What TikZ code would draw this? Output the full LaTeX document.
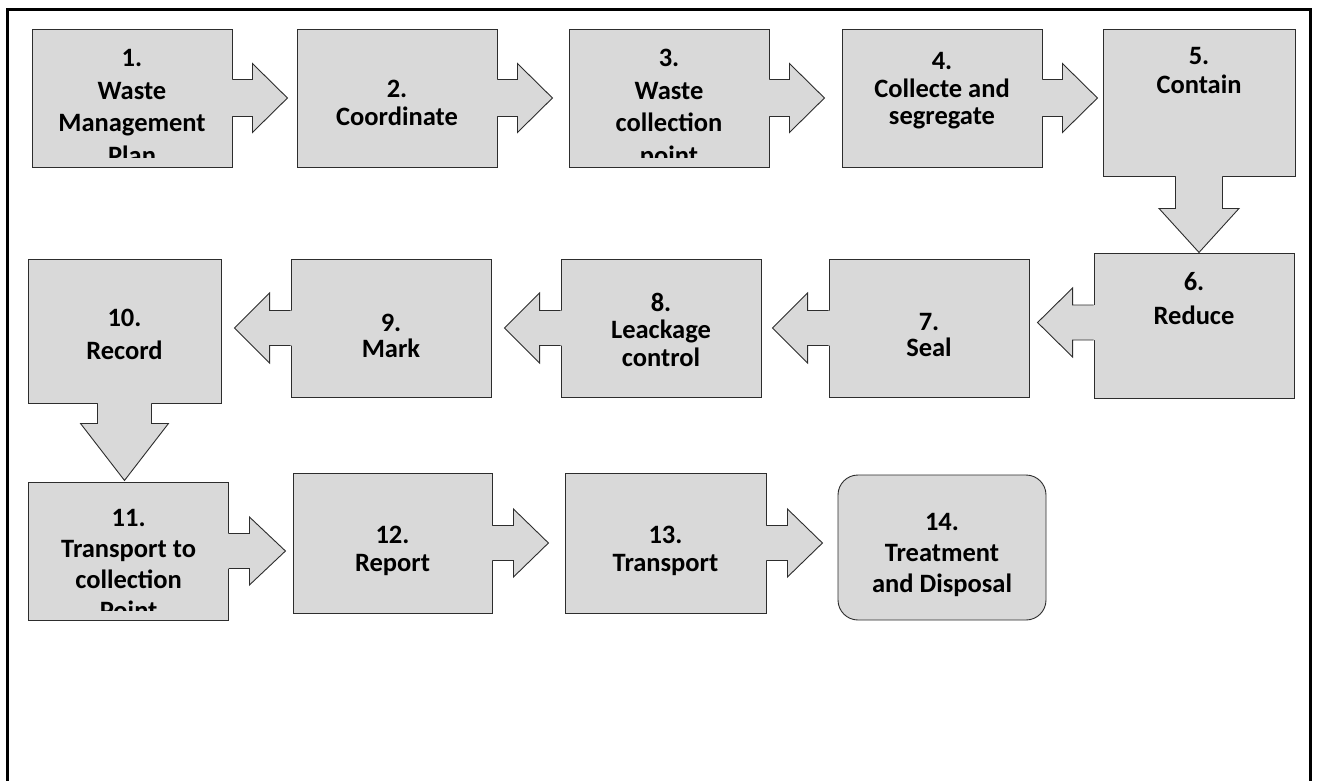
\documentclass[tikz,border=0pt]{standalone}
\usepackage{fontspec}
\setmainfont{Carlito}
\definecolor{boxfill}{RGB}{217,217,217}
\definecolor{edgecol}{RGB}{45,45,45}
\tikzset{
  stepbox/.style={draw=edgecol, fill=boxfill, line width=0.9pt, inner sep=0pt, rectangle},
  edge/.style={draw=edgecol, line width=0.9pt, line join=miter},
  txt/.style={anchor=base, inner sep=0pt, text=black},
}
\newcommand\lbl[2]{{\fontsize{26.5pt}{#1pt}\selectfont\bfseries\begin{tabular}[t]{@{}c@{}}#2\end{tabular}}}
\newcommand\steplabel[5]{%
  \begin{scope}
    \clip ([yshift=10pt]#1.south west) rectangle (#1.north east);
    \node[txt] (#1t) at (#2,#3+3) {\lbl{#4}{#5}};
  \end{scope}}
% #1 anchor point, #2 rotation, #3 shaft half, #4 head half, #5 base, #6 tip depth
\newcommand\arrowshape[6]{%
  \begin{scope}[shift={(#1)},rotate=#2]
    \fill[boxfill] (-1.5pt,#3pt) -- (#5pt,#3pt) -- (#5pt,#4pt) -- ({#5pt+#6pt},0pt) -- (#5pt,-#4pt) -- (#5pt,-#3pt) -- (-1.5pt,-#3pt) -- cycle;
    \draw[edge] (0pt,#3pt) -- (#5pt,#3pt) -- (#5pt,#4pt) -- ({#5pt+#6pt},0pt) -- (#5pt,-#4pt) -- (#5pt,-#3pt) -- (0pt,-#3pt);
  \end{scope}}
\begin{document}
\begin{tikzpicture}[x=1pt,y=-1pt]
\useasboundingbox (0,0) rectangle (1322,781);
\fill[white] (0,0) rectangle (1322,781);
\draw[line width=3pt] (7.5,781) -- (7.5,9.5) -- (1310.5,9.5) -- (1310.5,781);

% boxes
\node[stepbox, minimum width=200pt, minimum height=138pt] (b1) at (132,98) {};
\node[stepbox, minimum width=200pt, minimum height=138pt] (b2) at (397,98) {};
\node[stepbox, minimum width=200pt, minimum height=138pt] (b3) at (669,98) {};
\node[stepbox, minimum width=200pt, minimum height=138pt] (b4) at (942,98) {};
\node[stepbox, minimum width=192pt, minimum height=147pt] (b5) at (1199,102.5) {};
\node[stepbox, minimum width=200pt, minimum height=145pt] (b6) at (1194,325.5) {};
\node[stepbox, minimum width=200pt, minimum height=138pt] (b7) at (929,328) {};
\node[stepbox, minimum width=200pt, minimum height=138pt] (b8) at (661,328) {};
\node[stepbox, minimum width=200pt, minimum height=138pt] (b9) at (391,328) {};
\node[stepbox, minimum width=193pt, minimum height=144pt] (b10) at (124.5,331) {};
\node[stepbox, minimum width=200pt, minimum height=138pt] (b11) at (128.6,551) {};
\node[stepbox, minimum width=199pt, minimum height=140pt] (b12) at (392.5,543) {};
\node[stepbox, minimum width=201pt, minimum height=140pt] (b13) at (665.5,543) {};
\node[stepbox, rounded corners=20pt, minimum width=208pt, minimum height=145pt] (b14) at (942,547.5) {};

% arrows attached to boxes
\arrowshape{b1.east}{0}{18.5}{34.5}{20}{35}
\arrowshape{b2.east}{0}{18.5}{34.5}{20}{35}
\arrowshape{b3.east}{0}{18.5}{34.5}{20}{35}
\arrowshape{b4.east}{0}{18.5}{34.5}{20}{35}
\arrowshape{b5.south}{-90}{23.5}{40}{32}{44}
\arrowshape{[yshift=3pt]b6.west}{180}{17.5}{34.5}{21}{35}
\arrowshape{b7.west}{180}{17.5}{35}{21}{35}
\arrowshape{b8.west}{180}{17.5}{35}{21}{35}
\arrowshape{b9.west}{180}{17.5}{35}{21}{35}
\arrowshape{b10.south}{-90}{27}{44}{20}{57}
\arrowshape{b11.east}{0}{17.5}{34}{20.4}{36}
\arrowshape{b12.east}{0}{17.5}{34}{21}{35}
\arrowshape{b13.east}{0}{17.5}{34}{21}{35}

% labels
\steplabel{b1}{132}{64}{32.5}{1.\\Waste\\Management\\Plan}
\steplabel{b2}{397}{95}{28}{2.\\Coordinate}
\steplabel{b3}{669}{64}{32.5}{3.\\Waste\\collection\\point}
\steplabel{b4}{942}{67}{27.5}{4.\\Collecte and\\segregate}
\steplabel{b5}{1199}{62}{29}{5.\\Contain}
\steplabel{b6}{1194}{287}{34}{6.\\Reduce}
\steplabel{b7}{929}{327}{26}{7.\\Seal}
\steplabel{b8}{661}{308}{27.5}{8.\\Leackage\\control}
\steplabel{b9}{391}{328}{25}{9.\\Mark}
\steplabel{b10}{124.5}{323}{33}{10.\\Record}
\steplabel{b11}{128.6}{523}{31}{11.\\Transport to\\collection\\Point}
\steplabel{b12}{392.5}{540}{28}{12.\\Report}
\steplabel{b13}{665.5}{540}{28}{13.\\Transport}
\steplabel{b14}{942}{527}{31}{14.\\Treatment\\and Disposal}
\end{tikzpicture}
\end{document}
